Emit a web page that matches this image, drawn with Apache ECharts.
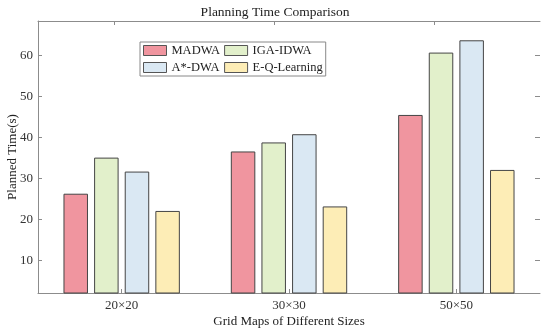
<!DOCTYPE html>
<html>
<head>
<meta charset="utf-8">
<script src="https://cdn.jsdelivr.net/npm/echarts@6/dist/echarts.min.js"></script>
<style>html,body{margin:0;padding:0;background:#fff}#c{width:550px;height:331px}</style>
</head>
<body>
<div id="c"></div>
<script>
const categories = ['20\u00d720', '30\u00d730', '50\u00d750'];
const seriesNames = ['MADWA', 'IGA-IDWA', 'A*-DWA', 'E-Q-Learning'];
const madwa = [26.3, 36.6, 45.5];
const igaIdwa = [35.1, 38.8, 60.7];
const aStarDwa = [31.7, 40.8, 63.7];
const eqLearning = [22.1, 23.2, 32.1];
const yTicks = [10, 20, 30, 40, 50, 60];
const colors = ['#F0959F', '#E2F0CB', '#DAE8F3', '#FDEDB6'];
const values = [madwa, igaIdwa, aStarDwa, eqLearning];

const font = 'Liberation Serif, Times New Roman, serif';
const axisGray = '#8c8c8c';
const yMin = 2.1, yMax = 68.4;

const chart = echarts.init(document.getElementById('c'), null, {renderer: 'canvas'});
chart.setOption({
  animation: false,
  backgroundColor: '#fff',
  title: {
    text: 'Planning Time Comparison',
    left: 'center', top: 0,
    textStyle: {fontFamily: font, fontSize: 13.5, fontWeight: 'normal', color: '#222'}
  },
  legend: {
    data: ['MADWA', 'A*-DWA', 'IGA-IDWA', 'E-Q-Learning'],
    orient: 'vertical',
    left: 140, top: 42,
    height: 34,
    padding: [2, 3, 2, 3],
    itemGap: 4,
    itemWidth: 23, itemHeight: 10,
    icon: 'rect',
    borderColor: '#888', borderWidth: 1, borderRadius: 0,
    backgroundColor: '#fff',
    itemStyle: {borderColor: '#555', borderWidth: 1},
    textStyle: {fontFamily: font, fontSize: 12.5, color: '#222', lineHeight: 12}
  },
  grid: {left: 38, right: 10, top: 21, bottom: 38, containLabel: false, outerBoundsMode: 'none'},
  xAxis: [{
    type: 'category',
    data: categories,
    position: 'bottom',
    axisLine: {show: true, lineStyle: {color: axisGray, width: 1}},
    axisTick: {show: true, inside: true, length: 4, alignWithLabel: true, lineStyle: {color: axisGray}},
    axisLabel: {fontFamily: font, fontSize: 13, color: '#333', margin: 6},
    name: 'Grid Maps of Different Sizes',
    nameLocation: 'middle', nameGap: 22, nameMoveOverlap: false,
    nameTextStyle: {fontFamily: font, fontSize: 13, color: '#222'}
  }, {
    type: 'value',
    position: 'top',
    min: 0, max: 502,
    axisLine: {show: true, onZero: false, lineStyle: {color: axisGray, width: 1}},
    axisTick: {show: true, inside: true, length: 4, customValues: [76, 236, 396], lineStyle: {color: axisGray}},
    axisLabel: {show: false},
    splitLine: {show: false}
  }],
  yAxis: [{
    type: 'value',
    min: yMin, max: yMax,
    axisLine: {show: true, lineStyle: {color: axisGray, width: 1}},
    axisTick: {show: true, inside: true, length: 4, customValues: yTicks, lineStyle: {color: axisGray}},
    axisLabel: {fontFamily: font, fontSize: 13, color: '#333', margin: 5, customValues: yTicks},
    splitLine: {show: false},
    name: 'Planned Time(s)',
    nameLocation: 'middle', nameGap: 19, nameMoveOverlap: false,
    nameTextStyle: {fontFamily: font, fontSize: 13, color: '#222'}
  }, {
    type: 'value',
    position: 'right',
    min: yMin, max: yMax,
    axisLine: {show: false},
    axisTick: {show: true, inside: true, length: 5, customValues: yTicks, lineStyle: {color: axisGray}},
    axisLabel: {show: false},
    splitLine: {show: false}
  }],
  series: seriesNames.map((n, i) => ({
    name: n,
    type: 'bar',
    xAxisIndex: 0, yAxisIndex: 0,
    data: values[i],
    barWidth: 24.5,
    barGap: '25%',
    itemStyle: {color: colors[i], borderColor: '#454545', borderWidth: 1}
  }))
});
</script>
</body>
</html>
